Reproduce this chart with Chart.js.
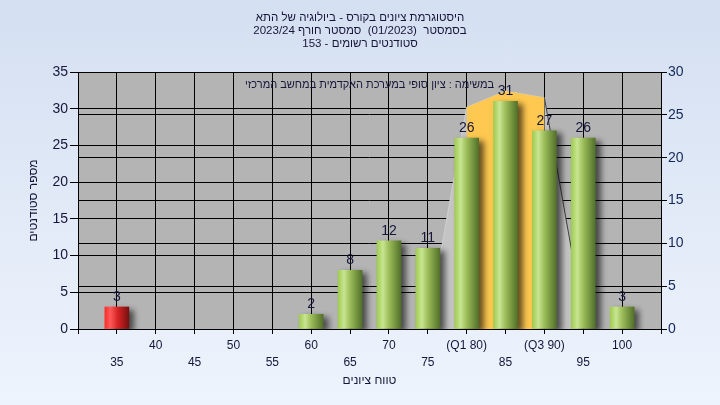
<!DOCTYPE html>
<html>
<head>
<meta charset="utf-8">
<script src="https://cdn.jsdelivr.net/npm/chart.js@4"></script>
<style>
    html, body { margin: 0; padding: 0; }
    body { width: 720px; height: 405px; background: linear-gradient(#d4dff1, #eef4fd); }
    canvas { display: block; }
</style>
</head>
<body>
<canvas id="grade-chart" width="720" height="405"></canvas>
<script>
const grades = [35, 40, 45, 50, 55, 60, 65, 70, 75, 80, 85, 90, 95, 100];
const students = [3, 0, 0, 0, 0, 2, 8, 12, 11, 26, 31, 27, 26, 3];
const gradeTickLabels = ['35', '40', '45', '50', '55', '60', '65', '70', '75', '(Q1 80)', '85', '(Q3 90)', '95', '100'];
const spreadGrades = [75, 80, 85, 90, 95];
const spreadValues = [0.6, 30.2, 32.4, 31.5, 1.8];
const quartileGrades = [80, 85, 90];
const quartileValues = [30.2, 32.4, 31.5];
const passGrade = 55;
const titleLines = [
    'היסטוגרמת ציונים בקורס - ביולוגיה של התא',
    'בסמסטר  (01/2023)  סמסטר חורף 2023/24',
    'סטודנטים רשומים - 153',
];
const taskNote = 'במשימה : ציון סופי במערכת האקדמית במחשב המרכזי';

{
    const FONT = '"Liberation Sans", "DejaVu Sans", sans-serif';
    const TEXT = '#16163a';
    const ctx = document.getElementById('grade-chart').getContext('2d');

    function cylinder(context) {
    // gradient across each bar, red for failing grades
        const chart = context.chart;
        const raw = context.raw;
        const failing = raw && raw.x < passGrade;
        if (!chart.chartArea || !raw) return failing ? '#d82020' : '#94c04c';
        const x = chart.scales.x.getPixelForValue(raw.x);
        const g = chart.ctx.createLinearGradient(x - 12, 0, x + 12, 0);
        if (failing) {
            g.addColorStop(0, '#ff2a2a');
            g.addColorStop(0.22, '#ff5a5a');
            g.addColorStop(0.55, '#d42222');
            g.addColorStop(1, '#761010');
        } else {
            g.addColorStop(0, '#a0cb52');
            g.addColorStop(0.25, '#c8e591');
            g.addColorStop(0.5, '#9cbd59');
            g.addColorStop(1, '#52702a');
        }
        return g;
    }

    const plotBackground = {
        id: 'plotBackground',
        beforeDraw(chart) {
            const { ctx, chartArea: a } = chart;
            ctx.save();
            ctx.fillStyle = '#b4b4b4';
            ctx.fillRect(a.left, a.top, a.right - a.left, a.bottom - a.top);
            ctx.restore();
        },
    };

    const barShadow = {
        id: 'barShadow',
        beforeDatasetDraw(chart, args) {
            if (args.meta.type !== 'bar') return;
            const ctx = chart.ctx;
            ctx.save();
            ctx.shadowColor = 'rgba(0, 0, 0, 0.6)';
            ctx.shadowBlur = 6;
            ctx.shadowOffsetX = 5;
            ctx.shadowOffsetY = 3;
        },
        afterDatasetDraw(chart, args) {
            if (args.meta.type !== 'bar') return;
            chart.ctx.restore();
        },
    };

    const barText = {
        id: 'barText',
        afterDatasetsDraw(chart) {
            const ctx = chart.ctx;
            const a = chart.chartArea;
            ctx.save();
            ctx.fillStyle = TEXT;
            ctx.textAlign = 'center';
            ctx.font = '14px ' + FONT;
            ctx.textBaseline = 'alphabetic';
            chart.getDatasetMeta(0).data.forEach((bar, i) => {
                if (!students[i]) return;
                ctx.fillText(String(students[i]), bar.x, bar.y - 6);
            });
            // values above bars
            ctx.font = '11px ' + FONT;
            ctx.textBaseline = 'middle';
            ctx.fillText(taskNote, (a.left + a.right) / 2, a.top + 13);
            ctx.restore();
        },
    };

    new Chart(ctx, {
        type: 'bar',
        data: {
            datasets: [
                {
                    type: 'bar',
                    order: 0,
                    data: grades.map((g, i) => ({ x: g, y: students[i] || null })),
                    // empty bins draw nothing
                    backgroundColor: cylinder,
                    borderWidth: 0,
                    barThickness: 24,
                    yAxisID: 'y',
                },
                {
                    type: 'line',
                    order: 1,
                    data: quartileGrades.map((g, i) => ({ x: g, y: quartileValues[i] })),
                    backgroundColor: '#ffc850',
                    borderWidth: 0,
                    fill: 'origin',
                    pointRadius: 0,
                    tension: 0,
                    yAxisID: 'y',
                },
                {
                    type: 'line',
                    order: 2,
                    data: spreadGrades.map((g, i) => ({ x: g, y: spreadValues[i] })),
                    backgroundColor: '#c4c4c4',
                    borderWidth: 1,
                    segment: {
                        borderColor: (c) => (c.p0.parsed.x >= 90 ? '#404040' : '#cfcfcf'),
                    },
                    fill: 'origin',
                    pointRadius: 0,
                    tension: 0,
                    yAxisID: 'y',
                },
            ],
        },
        options: {
            responsive: false,
            animation: false,
            layout: { padding: 0 },
            plugins: {
                legend: { display: false },
                tooltip: { enabled: false },
                title: {
                    display: true,
                    text: titleLines,
                    color: TEXT,
                    font: { family: FONT, size: 11.5, weight: 'normal', lineHeight: 1.148 },
                    padding: { top: 11, bottom: 21.4 },
                },
            },
            scales: {
                x: {
                    type: 'linear',
                    min: 30,
                    max: 105,
                    offset: false,
                    afterFit: (s) => { s.height = 76; },
                    grid: { color: '#000', offset: false, tickLength: 5 },
                    border: { color: '#000' },
                    ticks: {
                        stepSize: 5,
                        autoSkip: false,
                        maxRotation: 0,
                        padding: 3,
                        color: TEXT,
                        font: { family: FONT, size: 12, lineHeight: 1.4 },
                        callback: (v) => {
                            const i = grades.indexOf(v);
                            if (i < 0) return '';
                            return v % 10 === 0 ? gradeTickLabels[i] : ['', gradeTickLabels[i]];
                        },
                    },
                    title: {
                        display: true,
                        text: 'טווח ציונים',
                        color: TEXT,
                        font: { family: FONT, size: 12 },
                        padding: { top: 0, bottom: 17 },
                    },
                },
                y: {
                    position: 'left',
                    min: 0,
                    max: 35,
                    afterFit: (s) => { s.width = 78; },
                    grid: { color: '#000', tickLength: 8 },
                    border: { color: '#000' },
                    ticks: {
                        stepSize: 5,
                        padding: 2,
                        color: TEXT,
                        font: { family: FONT, size: 14 },
                    },
                    title: {
                        display: true,
                        text: 'מספר סטודנטים',
                        color: TEXT,
                        font: { family: FONT, size: 12 },
                        padding: { top: 26, bottom: 0 },
                    },
                },
                y2: {
                    position: 'right',
                    min: 0,
                    max: 30,
                    afterFit: (s) => { s.width = 59; },
                    grid: { color: '#000', tickLength: 6 },
                    border: { color: '#000' },
                    ticks: {
                        stepSize: 5,
                        padding: 1,
                        color: '#14285a',
                        font: { family: FONT, size: 14 },
                    },
                },
            },
        },
        plugins: [plotBackground, barShadow, barText],
    });
}
</script>
</body>
</html>
